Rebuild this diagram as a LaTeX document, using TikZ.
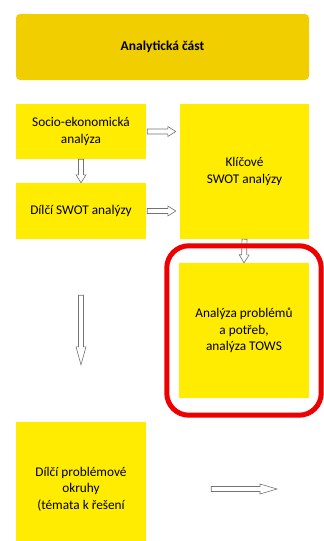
\documentclass[tikz,border=0pt]{standalone}
\usepackage{fontspec}
\setmainfont{Carlito}
\usetikzlibrary{calc,fit}

\definecolor{boxyellow}{RGB}{255,236,0}
\definecolor{titlegold}{RGB}{240,206,0}
\definecolor{ringred}{RGB}{238,0,0}

\tikzset{
  shaftw/.store in=\shaftw, shaftw=2.5pt,
  headw/.store in=\headw, headw=5pt,
  headl/.store in=\headl, headl=8pt,
  blockarrow/.style={draw=black!55, line width=0.6pt, fill=white,
    to path={let \p1=(\tikztostart), \p2=(\tikztotarget),
      \n1={atan2(\y2-\y1,\x2-\x1)}, \n2={veclen(\x2-\x1,\y2-\y1)} in
      {[shift={(\p1)}, rotate=\n1]
        (0pt,-\shaftw) -- ({\n2*1pt-\headl},-\shaftw) -- ({\n2*1pt-\headl},-\headw)
        -- ({\n2*1pt},0pt) -- ({\n2*1pt-\headl},\headw) -- ({\n2*1pt-\headl},\shaftw)
        -- (0pt,\shaftw) -- cycle}}},
  box/.style={fill=boxyellow, align=center, inner sep=2pt,
    font=\fontsize{13.3}{16.5}\selectfont},
  focus/.style={draw=ringred, line width=5pt, rounded corners=22pt,
    inner xsep=12pt, inner ysep=17pt}
}

\begin{document}
\begin{tikzpicture}[x=1pt, y=-1pt]
    \useasboundingbox (0,0) rectangle (324,541);
    \clip (0,0) rectangle (324,541);

    % bloky
    \node[box, fill=titlegold, rounded corners=4pt, minimum width=293pt, minimum height=66pt,
      font=\bfseries\fontsize{13.5}{16}\selectfont] (title) at (162.5,47) {Analytická část};
    \node[box, minimum width=130pt, minimum height=55pt] (socio) at (81,131.5) {Socio-ekonomická\\analýza};
    \node[box, minimum width=130pt, minimum height=56pt] (dswot) at (81,211) {Dílčí SWOT analýzy};
    \node[box, minimum width=129pt, minimum height=135pt] (klic) at (244.5,171.5) {Klíčové\\SWOT analýzy};
    \node[box, minimum width=130pt, minimum height=135pt] (anal) at (244,330.5) {Analýza problémů\\a potřeb,\\analýza TOWS};
    \node[box, minimum width=130pt, minimum height=134pt] (okruhy) at (81,489) {Dílčí problémové\\okruhy\\(témata k řešení};
    \coordinate (dalsi) at (277,489);

    % šipky
    \draw[blockarrow] ([xshift=1pt]socio.east) to ($(socio.east -| klic.west)+(-4pt,0)$);
    \draw[blockarrow] (socio.south) to (dswot.north);
    \draw[blockarrow] ([xshift=1pt]dswot.east) to ($(dswot.east -| klic.west)+(-4pt,0)$);
    \draw[blockarrow] (klic.south) to (anal.north);
    \draw[blockarrow, headl=18pt] ([yshift=-56pt]dswot.south) to ([yshift=57pt]okruhy.north);
    \draw[blockarrow, headl=17pt] ([xshift=65pt]okruhy.east) to (dalsi);

    % červený rámeček
    \node[focus, fit=(anal)] (ring) {};

\end{tikzpicture}
\end{document}
